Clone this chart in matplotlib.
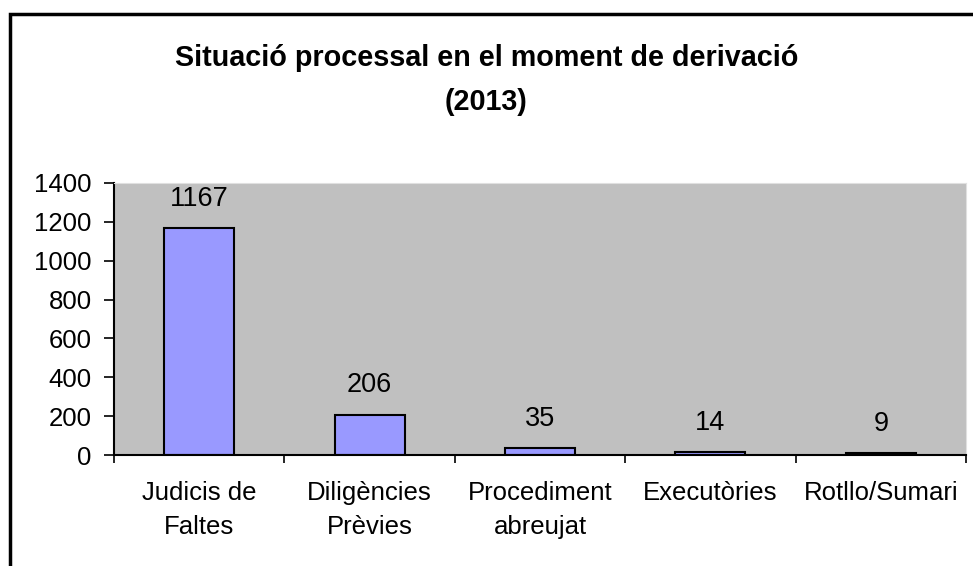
import matplotlib.pyplot as plt
from matplotlib.patches import Rectangle
import numpy as np

plt.rcParams['font.family'] = ['Liberation Sans', 'DejaVu Sans']

# Dades
categories = ['Judicis de\nFaltes', 'Diligències\nPrèvies', 'Procediment\nabreujat',
              'Executòries', 'Rotllo/Sumari']
valors = [1167, 206, 35, 14, 9]
title = 'Situació processal en el moment de derivació\n(2013)'

fig = plt.figure(figsize=(9.73, 5.66), dpi=100)
ax = fig.add_axes([0.1172, 0.1961, 0.8756, 0.4806])

x = np.arange(len(categories))
ax.bar(x, valors, width=0.41, color='#9999FF', edgecolor='black', linewidth=1.5, zorder=2)

for xi, v in zip(x, valors):
    ax.annotate(str(v), (xi, v), xytext=(0, 12), textcoords='offset points',
                ha='center', va='bottom', fontsize=19.5)

ax.set_facecolor('#C0C0C0')
ax.set_xlim(-0.5, len(categories) - 0.5)
ax.set_ylim(0, 1400)
ax.set_yticks(range(0, 1401, 200))
ax.tick_params(axis='y', labelsize=18.5, length=7, width=1.2, pad=9)

ax.set_xticks(x)
ax.set_xticklabels(categories, fontsize=18.5, linespacing=1.5, va='top')
ax.tick_params(axis='x', length=0, pad=19)
ax.set_xticks(np.arange(-0.5, len(categories)), minor=True)
ax.tick_params(axis='x', which='minor', length=6, width=1.2, direction='out')

for s in ['top', 'right']:
    ax.spines[s].set_color('#e0e0e0')
for s in ['left', 'bottom']:
    ax.spines[s].set_linewidth(1.5)

fig.text(0.5, 0.859, title, ha='center', va='center', fontsize=20.7,
         fontweight='bold', linespacing=1.7)

# Marc de la figura
fig.patches.append(Rectangle((10 / 973, -0.1), 1.2, 1 - 14 / 566 + 0.1,
                             transform=fig.transFigure, fill=False,
                             edgecolor='black', linewidth=2.5))

fig.savefig('out.png', dpi=100)
